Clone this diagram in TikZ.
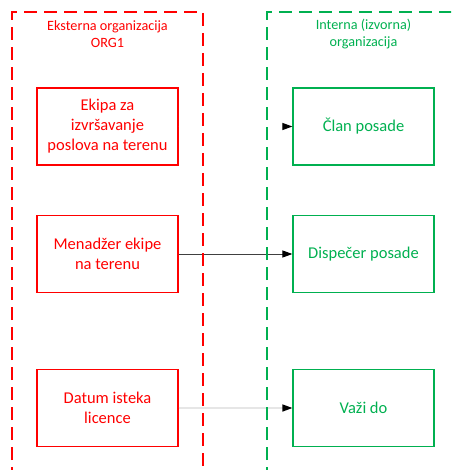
\documentclass[tikz,border=0pt]{standalone}
\usepackage{fontspec}
\setmainfont{Carlito}
\usetikzlibrary{arrows.meta}
\definecolor{orgred}{HTML}{FF0000}
\definecolor{orggreen}{HTML}{00B050}
\definecolor{darkline}{HTML}{404040}
\definecolor{lightline}{HTML}{E6E6E6}
\begin{document}
\begin{tikzpicture}[x=1pt,y=-1pt,
  frame/.style={line width=1.1pt, dash pattern=on 13pt off 7pt},
  redbox/.style={draw=orgred, line width=1.2pt, minimum width=141pt, minimum height=77pt, inner sep=0pt, text=orgred, align=center, font=\fontsize{16.5}{20}\selectfont},
  greenbox/.style={draw=orggreen, line width=1.2pt, minimum width=141pt, minimum height=77pt, inner sep=0pt, text=orggreen, align=center, font=\fontsize{16.5}{20}\selectfont},
  header/.style={align=center, inner sep=0pt, font=\fontsize{14.2}{17}\selectfont},
  conn/.style={line width=1pt, -{Triangle[length=10pt,width=7pt,black]}}
]
\useasboundingbox (0,0) rectangle (451,470);
\begin{scope}
\clip (0,0) rectangle (451,470);
% boxes
\node[redbox] (r1) at (107.5,126.5) {Ekipa za\\izvršavanje\\poslova na terenu};
\node[redbox] (r2) at (107.5,254) {Menadžer ekipe\\na terenu};
\node[redbox] (r3) at (107.5,408) {Datum isteka\\licence};
\node[greenbox] (g1) at (363.5,126.5) {Član posade};
\node[greenbox] (g2) at (363.5,254) {Dispečer posade};
\node[greenbox] (g3) at (363.5,408) {Važi do};
% connectors
\draw[conn, draw=white] (r1.east) -- (g1.west);
\draw[conn, draw=darkline] (r2.east) -- (g2.west);
\draw[conn, draw=lightline, line width=1.5pt] (r3.east) -- (g3.west);
% frames
\coordinate (rbl) at (12,480);
\coordinate (rtl) at (12,12);
\coordinate (rtr) at (203,12);
\coordinate (rbr) at (203,480);
\coordinate (gbl) at (267,480);
\coordinate (gtl) at (267,12);
\coordinate (gtr) at (470,12);
\draw[frame, draw=orgred] (rbl) -- (rtl) -- (rtr) -- (rbr);
\draw[frame, draw=orggreen] (gbl) -- (gtl) -- (gtr);
% headers
\node[header, text=orgred] (hr) at (107.5,34.5) {Eksterna organizacija\\ORG1};
\node[header, text=orggreen] (hg) at (363.5,34.5) {Interna (izvorna)\\organizacija};
\end{scope}
\end{tikzpicture}
\end{document}
